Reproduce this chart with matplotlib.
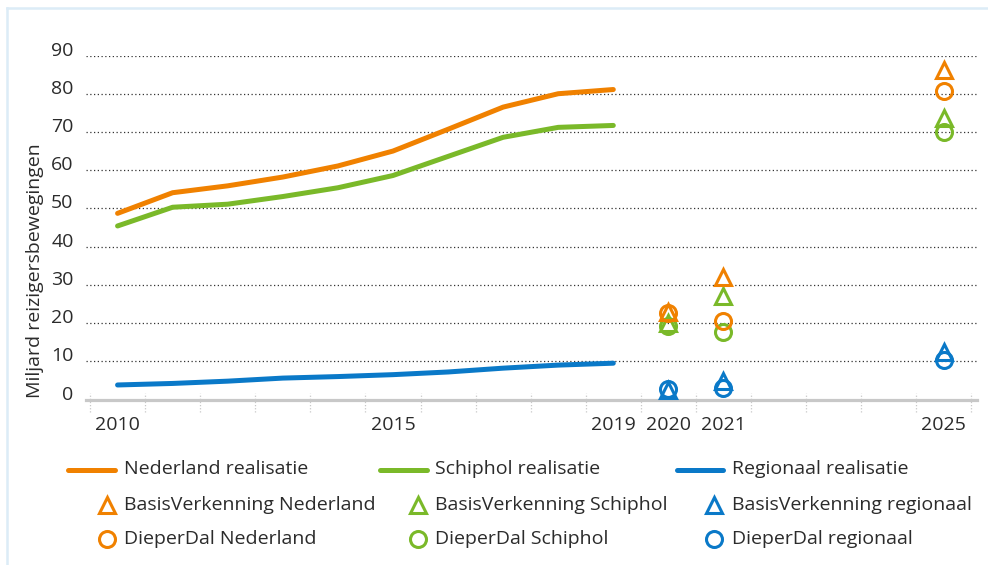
import numpy as np
import matplotlib
matplotlib.use("Agg")
import matplotlib.pyplot as plt
from matplotlib.lines import Line2D
from matplotlib.patches import Rectangle
from matplotlib.transforms import ScaledTranslation

plt.rcParams["font.family"] = ["Open Sans", "DejaVu Sans"]

# ---------- data ----------
years = [2010, 2011, 2012, 2013, 2014, 2015, 2016, 2017,
         2018, 2019, 2020, 2021, 2022, 2023, 2024, 2025]
year_labels = ["2010", "", "", "", "", "2015", "", "", "",
               "2019", "2020", "2021", "", "", "", "2025"]

real_years = years[:10]
nl_real = [48.7, 54.1, 55.9, 58.2, 61.1, 65.0, 70.7, 76.5, 80.0, 81.1]
sp_real = [45.4, 50.3, 51.1, 53.1, 55.4, 58.6, 63.6, 68.6, 71.2, 71.7]
rg_real = [3.8, 4.2, 4.8, 5.6, 6.0, 6.5, 7.2, 8.2, 9.0, 9.5]

scen_years = [2020, 2021, 2025]
nl_basis = [22.9, 32.1, 86.2]
sp_basis = [20.0, 27.1, 73.7]
rg_basis = [2.5, 4.8, 12.3]
nl_dal = [22.6, 20.5, 80.7]
sp_dal = [19.2, 17.6, 69.9]
rg_dal = [2.7, 2.9, 10.3]

ORANGE = "#f08100"
GREEN = "#7ab929"
BLUE = "#0a79c8"
TXT = "#2b2b2b"

# ---------- figure ----------
W, H = 988, 565
fig = plt.figure(figsize=(W / 100, H / 100), dpi=100)


def fx(x):
    return x / W


def fy(y):
    return 1 - y / H


# light blue frame
fig.add_artist(Line2D([fx(7), fx(7)], [fy(8), fy(H + 5)], color="#dcecf7", lw=1.8,
                      transform=fig.transFigure))
fig.add_artist(Line2D([fx(7), fx(W + 5)], [fy(8), fy(8)], color="#dcecf7", lw=1.8,
                      transform=fig.transFigure))

ax = fig.add_axes([fx(86), fy(399.5), (977 - 86) / W, (399.5 - 55.5) / H])
ax.set_xlim(-0.573, 15.603)
ax.set_ylim(0, 90)
for s in ax.spines.values():
    s.set_visible(False)

pos = {y: i for i, y in enumerate(years)}
xr = [pos[y] for y in real_years]
xs = [pos[y] for y in scen_years]

# grid + axis line
for v in range(10, 100, 10):
    ax.axhline(v, color="#333333", lw=0.9, ls=(0, (1, 2)), zorder=1)
ax.axhline(0, color="#c8c8c8", lw=2.3, zorder=2, clip_on=False)
ax.vlines(np.arange(len(years) + 1) - 0.5, -3.2, 1.8, colors="#c8c8c8",
          linestyles=(0, (1, 1.5)), lw=0.9, clip_on=False, zorder=1)

# realisatie lines
ax.plot(xr, nl_real, color=ORANGE, lw=3.6, solid_capstyle="round", zorder=3)
ax.plot(xr, sp_real, color=GREEN, lw=3.6, solid_capstyle="round", zorder=3)
ax.plot(xr, rg_real, color=BLUE, lw=3.6, solid_capstyle="round", zorder=3)

# scenario markers
mk = dict(ls="none", ms=11.5, mew=2.2, mfc="none", clip_on=False, zorder=4)
ax.plot(xs, rg_dal, marker="o", mec=BLUE, **mk)
ax.plot(xs, rg_basis, marker="^", mec=BLUE, **mk)
ax.plot(xs, sp_dal, marker="o", mec=GREEN, **mk)
ax.plot(xs, sp_basis, marker="^", mec=GREEN, **mk)
ax.plot(xs, nl_dal, marker="o", mec=ORANGE, **mk)
ax.plot(xs, nl_basis, marker="^", mec=ORANGE, **mk)

# ticks
ax.set_xticks(range(len(years)))
ax.set_xticklabels(year_labels)
ax.set_yticks(range(0, 100, 10))
ax.tick_params(axis="both", length=0, labelsize=14, labelcolor=TXT)
ax.tick_params(axis="x", pad=12)
ax.tick_params(axis="y", pad=9)
shift = ScaledTranslation(0, 0.07, fig.dpi_scale_trans)
for lbl in ax.get_yticklabels():
    lbl.set_transform(lbl.get_transform() + shift)

fig.text(fx(35), fy(271), "Miljard reizigersbewegingen", rotation=90,
         ha="center", va="center", fontsize=14, color=TXT)

# ---------- legend ----------
leg_labels = [
    ["Nederland realisatie", "Schiphol realisatie", "Regionaal realisatie"],
    ["BasisVerkenning Nederland", "BasisVerkenning Schiphol", "BasisVerkenning regionaal"],
    ["DieperDal Nederland", "DieperDal Schiphol", "DieperDal regionaal"],
]
leg_colors = [ORANGE, GREEN, BLUE]
col_line = [(68.3, 115), (380, 426.7), (676.7, 723.3)]
col_text = [124.3, 435, 731.7]
col_mark = [106.7, 417.7, 714.3]
row_y = [469.5, 505, 538.5]

for c in range(3):
    x0, x1 = col_line[c]
    fig.add_artist(Line2D([fx(x0), fx(x1)], [fy(row_y[0])] * 2, color=leg_colors[c],
                          lw=3.6, solid_capstyle="round", transform=fig.transFigure))
    for r, m in ((1, "^"), (2, "o")):
        fig.add_artist(Line2D([fx(col_mark[c])], [fy(row_y[r])], marker=m, ms=11.5,
                              mew=2.2, mfc="none", mec=leg_colors[c], ls="none",
                              transform=fig.transFigure))
    for r in range(3):
        fig.text(fx(col_text[c]), fy(row_y[r]), leg_labels[r][c], ha="left",
                 va="center", fontsize=14, color=TXT)

fig.savefig("out.png", dpi=100)
